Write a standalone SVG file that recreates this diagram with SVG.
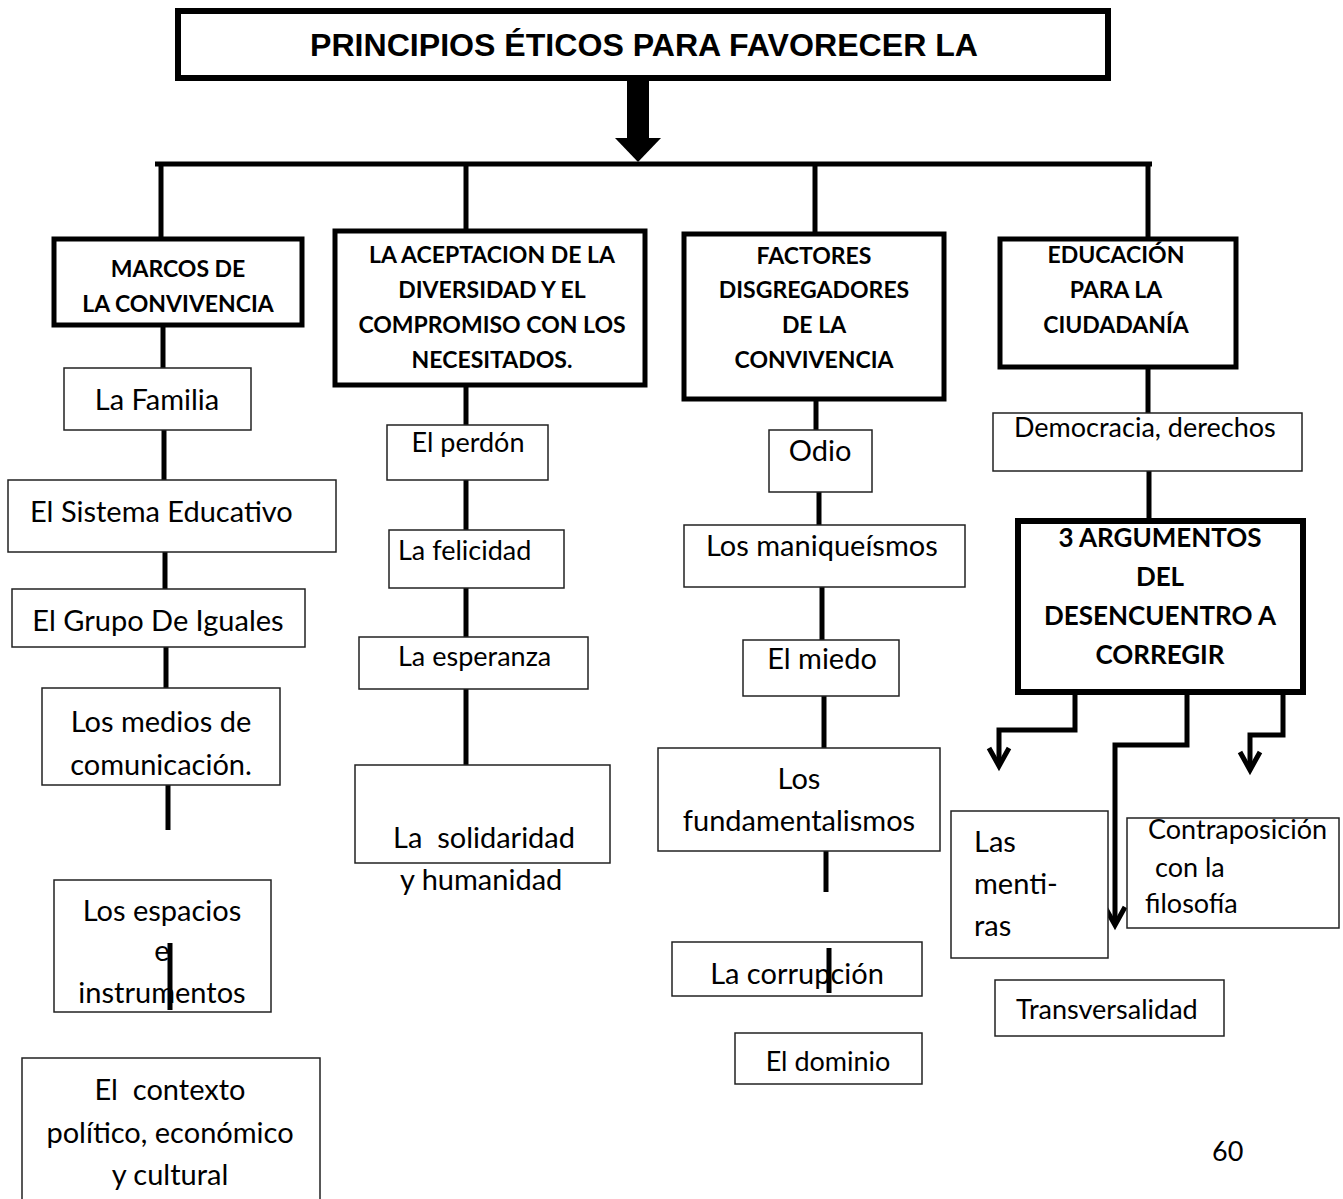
<svg xmlns="http://www.w3.org/2000/svg" width="1343" height="1199" viewBox="0 0 1343 1199">
<defs>
<style>
.thick{fill:#fff;stroke:#000;stroke-width:5}
.thin{fill:#fff;stroke:#222;stroke-width:1.5}
.ln{stroke:#000;stroke-width:5;fill:none}
.arr{stroke:#000;stroke-width:5;fill:none;stroke-linejoin:miter}
.h{font-family:Lato,"Liberation Sans",sans-serif;font-weight:bold;font-size:23px;fill:#000;text-anchor:middle}
.t{font-family:Lato,"Liberation Sans",sans-serif;font-size:29px;fill:#000}
.s{font-family:Lato,"Liberation Sans",sans-serif;font-size:27px;fill:#000}
.m{text-anchor:middle}
</style>
</defs>
<rect width="1343" height="1199" fill="#fff"/>
<g id="connectors">
<line class="ln" x1="638" y1="78" x2="638" y2="140" style="stroke-width:22"/>
<polygon points="615,138 661,138 638,162" fill="#000"/>
<line class="ln" x1="155" y1="164" x2="1152" y2="164"/>
<line class="ln" x1="161" y1="164" x2="161" y2="240"/>
<line class="ln" x1="466" y1="164" x2="466" y2="232"/>
<line class="ln" x1="815" y1="164" x2="815" y2="235"/>
<line class="ln" x1="1148" y1="164" x2="1148" y2="238"/>
<line class="ln" x1="163" y1="325" x2="163" y2="370"/>
<line class="ln" x1="164" y1="430" x2="164" y2="481"/>
<line class="ln" x1="165" y1="552" x2="165" y2="590"/>
<line class="ln" x1="166" y1="647" x2="166" y2="689"/>
<line class="ln" x1="168" y1="785" x2="168" y2="830"/>
<line class="ln" x1="466" y1="385" x2="466" y2="426"/>
<line class="ln" x1="466" y1="480" x2="466" y2="531"/>
<line class="ln" x1="466" y1="588" x2="466" y2="638"/>
<line class="ln" x1="466" y1="689" x2="466" y2="766"/>
<line class="ln" x1="816" y1="400" x2="816" y2="431"/>
<line class="ln" x1="819" y1="492" x2="819" y2="526"/>
<line class="ln" x1="822" y1="587" x2="822" y2="641"/>
<line class="ln" x1="824" y1="696" x2="824" y2="749"/>
<line class="ln" x1="826" y1="851" x2="826" y2="892"/>
<line x1="829" y1="1036" x2="829" y2="1039" stroke="#aaa" stroke-width="4"/>
<line class="ln" x1="1148" y1="367" x2="1148" y2="414"/>
<line class="ln" x1="1149" y1="471" x2="1149" y2="521"/>
<path class="arr" d="M1075,692 V730 H999 V766"/>
<path class="arr" d="M989,748 L999,766 L1009,748"/>
<path class="arr" d="M1187,692 V745 H1115 V925"/>
<path class="arr" d="M1105,907 L1115,925 L1125,907"/>
<path class="arr" d="M1283,692 V735 H1250 V770"/>
<path class="arr" d="M1240,752 L1250,770 L1260,752"/>
</g>
<g id="title">
<rect class="thick" x="178" y="11" width="930" height="67" style="stroke-width:6"/>
<text x="644" y="56" font-family="'Liberation Sans',Arial,sans-serif" font-weight="bold" font-size="32" text-anchor="middle" textLength="668" lengthAdjust="spacingAndGlyphs">PRINCIPIOS ÉTICOS PARA FAVORECER LA</text>
</g>
<g id="marcos">
<rect class="thick" x="54" y="239" width="248" height="86"/>
<text class="h" x="178" y="277">MARCOS DE</text>
<text class="h" x="178" y="312">LA CONVIVENCIA</text>
</g>
<g id="familia">
<rect class="thin" x="64" y="368" width="187" height="62"/>
<text class="t m" x="157" y="410">La Familia</text>
</g>
<g id="sistema">
<rect class="thin" x="8" y="480" width="328" height="72"/>
<text class="t" x="30" y="522">El Sistema Educativo</text>
</g>
<g id="grupo">
<rect class="thin" x="12" y="589" width="293" height="58"/>
<text class="t m" x="158" y="631">El Grupo De Iguales</text>
</g>
<g id="medios">
<rect class="thin" x="42" y="688" width="238" height="97"/>
<text class="t m" x="161" y="732">Los medios de</text>
<text class="t m" x="161" y="775">comunicación.</text>
</g>
<g id="espacios">
<rect class="thin" x="54" y="880" width="217" height="132"/>
<text class="t m" x="162" y="921">Los espacios</text>
<text class="t m" x="162" y="961">e</text>
<text class="t m" x="162" y="1003">instrumentos</text>
<line class="ln" x1="170" y1="943" x2="170" y2="1010"/>
</g>
<g id="contexto">
<rect class="thin" x="22" y="1058" width="298" height="150"/>
<text class="t m" x="170" y="1100" xml:space="preserve">El  contexto</text>
<text class="t m" x="170" y="1143">político, económico</text>
<text class="t m" x="170" y="1185">y cultural</text>
</g>
<g id="aceptacion">
<rect class="thick" x="335" y="231" width="310" height="154"/>
<text class="h" x="492" y="263">LA ACEPTACION DE LA</text>
<text class="h" x="492" y="298">DIVERSIDAD Y EL</text>
<text class="h" x="492" y="333">COMPROMISO CON LOS</text>
<text class="h" x="492" y="368">NECESITADOS.</text>
</g>
<g id="perdon">
<rect class="thin" x="387" y="425" width="161" height="55"/>
<text class="s m" x="468" y="452">El perdón</text>
</g>
<g id="felicidad">
<rect class="thin" x="389" y="530" width="175" height="58"/>
<text class="s" x="398" y="560">La felicidad</text>
</g>
<g id="esperanza">
<rect class="thin" x="359" y="637" width="229" height="52"/>
<text class="s" x="398" y="666">La esperanza</text>
</g>
<g id="solidaridad">
<rect class="thin" x="355" y="765" width="255" height="98"/>
<text class="t" x="393" y="848" xml:space="preserve">La  solidaridad</text>
<text class="t" x="400" y="890">y humanidad</text>
</g>
<g id="factores">
<rect class="thick" x="684" y="234" width="260" height="165"/>
<text class="h" x="814" y="264">FACTORES</text>
<text class="h" x="814" y="298">DISGREGADORES</text>
<text class="h" x="814" y="333">DE LA</text>
<text class="h" x="814" y="368">CONVIVENCIA</text>
</g>
<g id="odio">
<rect class="thin" x="769" y="430" width="103" height="62"/>
<text class="t m" x="820" y="461">Odio</text>
</g>
<g id="maniqueismos">
<rect class="thin" x="684" y="525" width="281" height="62"/>
<text class="t" x="706" y="556">Los maniqueísmos</text>
</g>
<g id="miedo">
<rect class="thin" x="743" y="640" width="156" height="56"/>
<text class="t m" x="822" y="669">El miedo</text>
</g>
<g id="fundamentalismos">
<rect class="thin" x="658" y="748" width="282" height="103"/>
<text class="t m" x="799" y="789">Los</text>
<text class="t m" x="799" y="831">fundamentalismos</text>
</g>
<g id="corrupcion">
<rect class="thin" x="672" y="942" width="250" height="54"/>
<text class="t m" x="797" y="984">La corrupción</text>
<line class="ln" x1="829" y1="948" x2="829" y2="993"/>
</g>
<g id="dominio">
<rect class="thin" x="735" y="1033" width="187" height="51"/>
<text class="s m" x="828" y="1071">El dominio</text>
</g>
<g id="educacion">
<rect class="thick" x="1000" y="239" width="236" height="128"/>
<text class="h" x="1116" y="263">EDUCACIÓN</text>
<text class="h" x="1116" y="298">PARA LA</text>
<text class="h" x="1116" y="333">CIUDADANÍA</text>
</g>
<g id="democracia">
<rect class="thin" x="993" y="413" width="309" height="58"/>
<text class="s" x="1014" y="437">Democracia, derechos</text>
</g>
<g id="argumentos">
<rect class="thick" x="1018" y="521" width="285" height="171" style="stroke-width:6"/>
<text class="h" x="1160" y="547" style="font-size:26px">3 ARGUMENTOS</text>
<text class="h" x="1160" y="586" style="font-size:26px">DEL</text>
<text class="h" x="1160" y="625" style="font-size:26px">DESENCUENTRO A</text>
<text class="h" x="1160" y="664" style="font-size:26px">CORREGIR</text>
</g>
<g id="mentiras">
<rect class="thin" x="951" y="811" width="157" height="147"/>
<text class="t" x="974" y="852">Las</text>
<text class="t" x="974" y="894">menti-</text>
<text class="t" x="974" y="936">ras</text>
</g>
<g id="contraposicion">
<rect class="thin" x="1127" y="818" width="212" height="110"/>
<text class="s" x="1148" y="839">Contraposición</text>
<text class="s" x="1155" y="877">con la</text>
<text class="s" x="1145" y="913">filosofía</text>
</g>
<g id="transversalidad">
<rect class="thin" x="995" y="980" width="229" height="56"/>
<text class="s" x="1016" y="1019">Transversalidad</text>
</g>
<text class="s" x="1212" y="1161">60</text>
</svg>
